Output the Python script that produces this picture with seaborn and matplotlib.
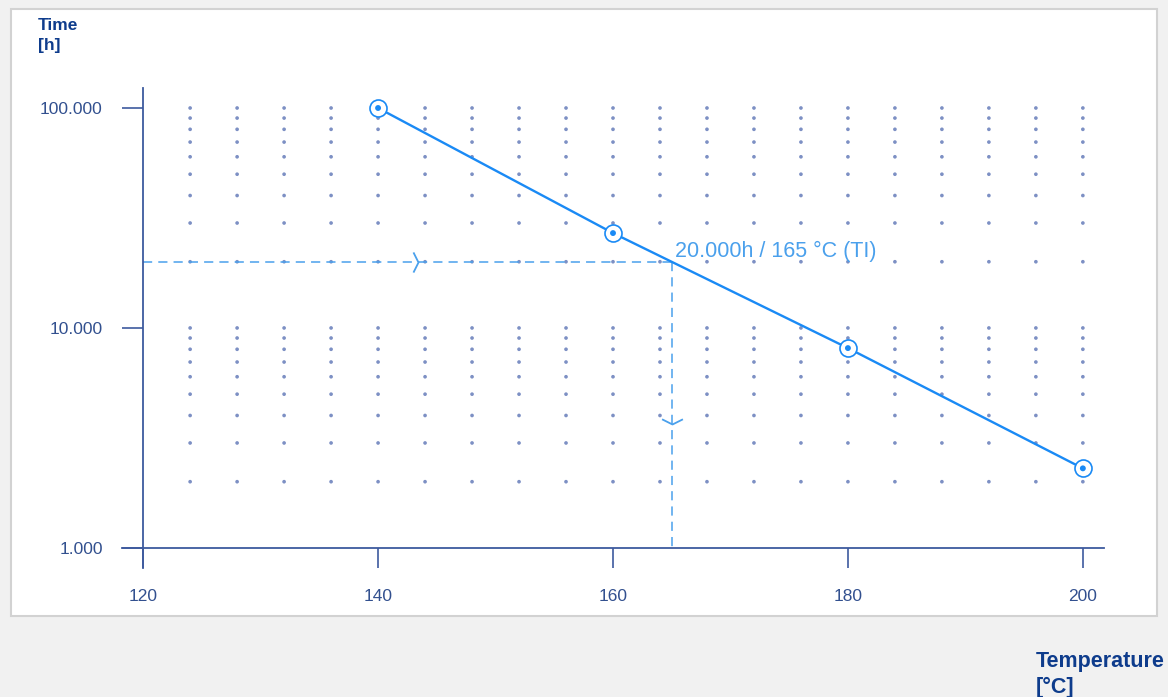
import numpy as np
import matplotlib
matplotlib.use("Agg")
import matplotlib.pyplot as plt
import seaborn as sns
import pandas as pd
from matplotlib.patches import Rectangle
from matplotlib.ticker import FuncFormatter, FixedLocator, NullLocator

# measured points of the ageing curve
temps = [140, 160, 180, 200]
hours = [100000, 27000, 8100, 2300]

# temperature index read-off
ti_temp = 165
ti_hours = 20000
ti_label = "20.000h / 165 °C (TI)"

# background dot grid
grid_temps = [124, 128, 132, 136, 140, 144, 148, 152, 156, 160,
              164, 168, 172, 176, 180, 184, 188, 192, 196, 200]
grid_hours = [2000, 3000, 4000, 5000, 6000, 7000, 8000, 9000, 10000,
              20000, 30000, 40000, 50000, 60000, 70000, 80000, 90000, 100000]

x_ticks = [120, 140, 160, 180, 200]
y_ticks = [1000, 10000, 100000]

line_col = "#1a8af5"
dash_col = "#4aa0ec"
axis_col = "#3d5a9e"
tick_col = "#32508f"
title_col = "#0e3c8c"
dot_col = "#7d90c4"

sns.set_style("white")
plt.rcParams["font.family"] = ["Liberation Sans", "DejaVu Sans"]

fig = plt.figure(figsize=(11.68, 6.97), dpi=100)
fig.patch.set_facecolor("#f1f1f1")
fig.patches.append(Rectangle((11 / 1168, 81 / 697), 1146 / 1168, 607 / 697,
                             transform=fig.transFigure, facecolor="white",
                             edgecolor="#d2d2d2", linewidth=1.5, zorder=-5))

ax = fig.add_axes([122 / 1168, 129 / 697, 982 / 1168, 480 / 697])
ax.patch.set_alpha(0)

gx, gy = np.meshgrid(grid_temps, grid_hours)
grid_df = pd.DataFrame({"t": gx.ravel(), "h": gy.ravel()})
sns.scatterplot(data=grid_df, x="t", y="h", ax=ax, s=7, color=dot_col,
                edgecolor="none", zorder=1, legend=False)

# read-off lines
ax.plot([x_ticks[0], ti_temp], [ti_hours, ti_hours], color=dash_col,
        lw=1.1, dashes=(6, 4), zorder=2)
ax.plot([ti_temp, ti_temp], [ti_hours, y_ticks[0]], color=dash_col,
        lw=1.1, dashes=(6, 4), zorder=2)
chev_right = [(-0.5, 1), (0, 0), (-0.5, -1)]
chev_down = [(-1, 0.5), (0, 0), (1, 0.5)]
ax.plot([143.4], [ti_hours], marker=chev_right, ms=14.5,
        mfc="none", mec=dash_col, mew=1.3, zorder=3)
ax.plot([ti_temp], [3650], marker=chev_down,
        ms=15, mfc="none", mec=dash_col, mew=1.3, zorder=3)

df = pd.DataFrame({"t": temps, "h": hours})
sns.lineplot(data=df, x="t", y="h", ax=ax, color=line_col, lw=1.7, zorder=4)
sns.scatterplot(data=df, x="t", y="h", ax=ax, s=150, facecolor="white",
                edgecolor=line_col, linewidth=1.2, zorder=5, legend=False)
sns.scatterplot(data=df, x="t", y="h", ax=ax, s=18, color=line_col,
                edgecolor="none", zorder=6, legend=False)

ax.text(ti_temp + 0.3, ti_hours * 1.054, ti_label, color=dash_col,
        fontsize=15.5, ha="left", va="baseline", zorder=7)

ax.set_yscale("log")
ax.set_xlim(118.2, 201.8)
ax.set_ylim(10 ** (3 - 20 / 219), 10 ** (5 + 20 / 220))
ax.xaxis.set_major_locator(FixedLocator(x_ticks))
ax.yaxis.set_major_locator(FixedLocator(y_ticks))
ax.yaxis.set_minor_locator(NullLocator())
ax.yaxis.set_major_formatter(FuncFormatter(lambda v, p: f"{int(round(v)):,}".replace(",", ".")))

for side in ["top", "right"]:
    ax.spines[side].set_visible(False)
ax.spines["left"].set_position(("data", 120))
ax.spines["bottom"].set_position(("data", 1000))
for side in ["left", "bottom"]:
    ax.spines[side].set_color(axis_col)
    ax.spines[side].set_linewidth(1.3)

ax.tick_params(axis="x", bottom=True, direction="out", length=14.4, width=1.2,
               color=axis_col, labelcolor=tick_col, labelsize=12.5, pad=15)
ax.tick_params(axis="y", left=True, direction="out", length=15, width=1.2,
               color=axis_col, labelcolor=tick_col, labelsize=12.5, pad=14)
ax.set_xlabel("")
ax.set_ylabel("")

fig.text(38 / 1168, 1 - 18 / 697, "Time\n[h]", color=title_col, fontsize=12.5,
         fontweight="bold", ha="left", va="top", linespacing=1.45)
fig.text(1036 / 1168, 1 - 651 / 697, "Temperature\n[°C]", color=title_col,
         fontsize=15.5, fontweight="bold", ha="left", va="top", linespacing=1.3)

fig.savefig("out.png", dpi=100, facecolor=fig.get_facecolor())
